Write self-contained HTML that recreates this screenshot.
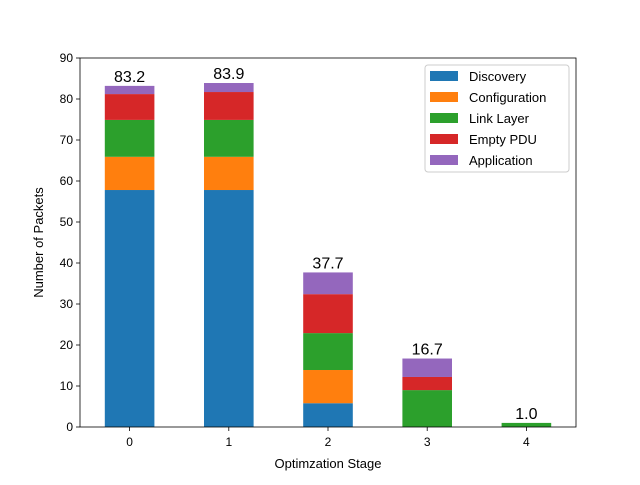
<!DOCTYPE html>
<html><head><meta charset="utf-8"><style>
body{margin:0;background:#fff;}
svg{font-family:"Liberation Sans","DejaVu Sans",sans-serif;}
</style></head><body>
<svg id="chart" width="640" height="480"></svg>
<script>
const categories=["0","1","2","3","4"];
const seriesNames=["Discovery","Configuration","Link Layer","Empty PDU","Application"];
const discovery=[57.8,57.8,5.8,0,0];
const configuration=[8.1,8.1,8.1,0,0];
const linkLayer=[9.0,9.0,9.0,9.0,1.0];
const emptyPdu=[6.3,6.8,9.5,3.2,0];
const application=[2.0,2.2,5.3,4.5,0];
const yTicks=[0,10,20,30,40,50,60,70,80,90];
const colors=["#1f77b4","#ff7f0e","#2ca02c","#d62728","#9467bd"];
const series=[discovery,configuration,linkLayer,emptyPdu,application];
const NS="http://www.w3.org/2000/svg";
const svg=document.getElementById('chart');
const L=80,R=576,T=58,B=427,yMax=90;
const y=v=>B-(v/yMax)*(B-T);
const step=(R-L)/categories.length;
const x=i=>L+step*(i+0.5);
const bw=step*0.5;
function mk(tag,attrs,parent){const e=document.createElementNS(NS,tag);for(const k in attrs)e.setAttribute(k,attrs[k]);(parent||svg).appendChild(e);return e;}
categories.forEach((c,i)=>{
  let base=0;
  series.forEach((s,si)=>{
    const v=s[i];
    if(v>0){
      const r=mk('rect',{x:x(i)-bw/2,y:y(base+v),width:bw,height:y(base)-y(base+v),fill:colors[si]});
      
      
    }
    base+=v;
  });
  const t=mk('text',{x:x(i),y:y(base)-4,'text-anchor':'middle','font-size':16,fill:'#000'});
  t.textContent=base.toFixed(1);
  
  
  mk('line',{x1:x(i),x2:x(i),y1:B,y2:B+4,stroke:'#000','stroke-width':0.8});
  const xt=mk('text',{x:x(i),y:B+19,'text-anchor':'middle','font-size':12});
  xt.textContent=c;
  
  
});
yTicks.forEach(v=>{
  mk('line',{x1:L-4,x2:L,y1:y(v),y2:y(v),stroke:'#000','stroke-width':0.8});
  const t=mk('text',{x:L-7,y:y(v)+4,'text-anchor':'end','font-size':12});
  t.textContent=v;
  
  
});
const ax=mk('rect',{x:L,y:T,width:R-L,height:B-T,fill:'none',stroke:'#000','stroke-width':0.8});


const xl=mk('text',{x:(L+R)/2,y:468,'text-anchor':'middle','font-size':13});
xl.textContent='Optimzation Stage';


const yl=mk('text',{x:0,y:0,'text-anchor':'middle','font-size':13,transform:'translate(43,'+((T+B)/2)+') rotate(-90)'});
yl.textContent='Number of Packets';


const lg=mk('g',{});


mk('rect',{x:425,y:65,width:144,height:107,rx:3,fill:'#fff',stroke:'#ccc'},lg);
seriesNames.forEach((n,i)=>{
  const yy=76+i*21;
  const sw=mk('rect',{x:430,y:yy-5,width:28,height:10,fill:colors[i]},lg);
  
  
  const t=mk('text',{x:469,y:yy+5,'font-size':13},lg);
  t.textContent=n;
  
  
});
</script>
</body></html>
